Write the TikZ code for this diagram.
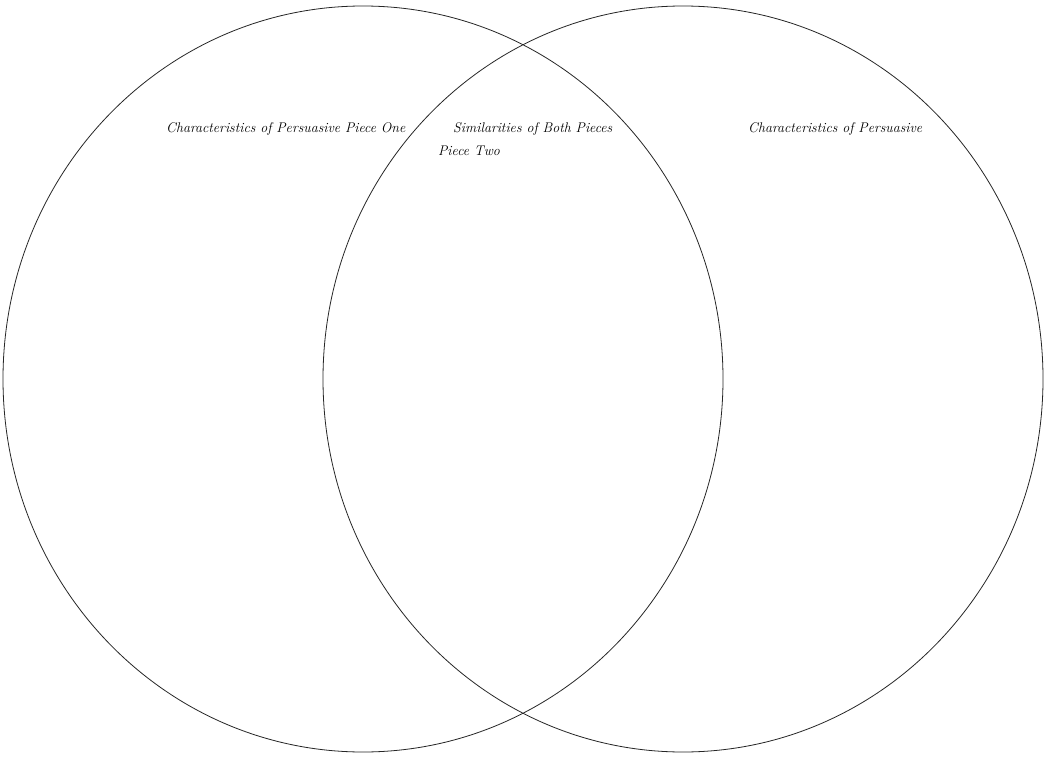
\documentclass[tikz,border=0pt]{standalone}
\begin{document}
\begin{tikzpicture}[x=1pt,y=-1pt,
  ring/.style={draw=black!85,line width=0.8pt},
  lbl/.style={anchor=base west,inner sep=0pt,font=\fontsize{14}{16}\selectfont\itshape}]
\useasboundingbox[fill=white] (0,0) rectangle (1044,757);
\draw[ring] (363,379) ellipse [x radius=360, y radius=373];
\draw[ring] (683,379) ellipse [x radius=360, y radius=373];
\node[lbl] (l1) at (166,133) {Characteristics of Persuasive Piece One};
\node[lbl] (l2) at (453,133) {Similarities of Both Pieces};
\node[lbl] (l3) at (438,155) {Piece Two};
\node[lbl] (l4) at (748,133) {Characteristics of Persuasive};
\end{tikzpicture}
\end{document}
